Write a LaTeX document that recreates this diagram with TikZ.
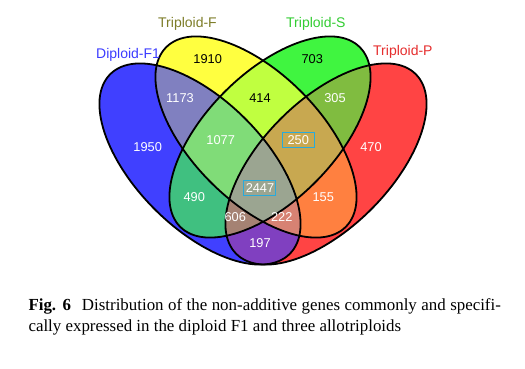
\documentclass[tikz,border=0pt]{standalone}
\usepackage{fontspec}
\setmainfont{Liberation Serif}
\setsansfont{Liberation Sans}
\definecolor{cA}{RGB}{64,64,255}
\definecolor{cB}{RGB}{255,255,64}
\definecolor{cC}{RGB}{64,245,64}
\definecolor{cD}{RGB}{255,68,68}
\definecolor{cAB}{RGB}{128,128,192}
\definecolor{cBC}{RGB}{192,255,64}
\definecolor{cCD}{RGB}{128,188,64}
\definecolor{cAD}{RGB}{128,64,192}
\definecolor{cAC}{RGB}{64,192,128}
\definecolor{cBD}{RGB}{255,128,64}
\definecolor{cABC}{RGB}{128,220,120}
\definecolor{cBCD}{RGB}{200,168,80}
\definecolor{cACD}{RGB}{165,130,115}
\definecolor{cABD}{RGB}{215,130,115}
\definecolor{cABCD}{RGB}{155,165,145}
\definecolor{boxc}{RGB}{40,170,220}
\definecolor{labA}{RGB}{60,60,255}
\definecolor{labB}{RGB}{125,125,40}
\definecolor{labC}{RGB}{50,205,50}
\definecolor{labD}{RGB}{230,45,45}
\newcommand\EA{(200,164) ellipse [x radius=127, y radius=64, rotate=-45]}
\newcommand\EB{(256,137) ellipse [x radius=127, y radius=64, rotate=-45]}
\newcommand\EC{(270,137) ellipse [x radius=127, y radius=64, rotate=45]}
\newcommand\ED{(326,164) ellipse [x radius=127, y radius=64, rotate=45]}
\newcommand\paintreg[2]{\begin{scope}#1\fill[#2] (0,0) rectangle (525,368);\end{scope}}
\begin{document}
\begin{tikzpicture}[x=1pt,y=-1pt,
  num/.style={font=\sffamily\fontsize{12.8}{14}\selectfont, text=white, inner sep=0pt, anchor=center},
  dnum/.style={num, text=black},
  setlab/.style={font=\sffamily\fontsize{14}{16}\selectfont, inner sep=0pt, anchor=base west},
  outline/.style={draw=black, line width=1.8pt},
  hibox/.style={draw=boxc, line width=1.1pt, minimum width=32pt, minimum height=15pt, inner sep=0pt},
  captext/.style={font=\fontsize{16.9}{21}\selectfont, inner sep=0pt, anchor=base west}]
\useasboundingbox (0,0) rectangle (525,368);
\fill[white] (0,0) rectangle (525,368);
% single sets
\paintreg{\clip\EA;}{cA}
\paintreg{\clip\EB;}{cB}
\paintreg{\clip\EC;}{cC}
\paintreg{\clip\ED;}{cD}
% pairs
\paintreg{\clip\EA;\clip\EB;}{cAB}
\paintreg{\clip\EB;\clip\EC;}{cBC}
\paintreg{\clip\EC;\clip\ED;}{cCD}
\paintreg{\clip\EA;\clip\ED;}{cAD}
\paintreg{\clip\EA;\clip\EC;}{cAC}
\paintreg{\clip\EB;\clip\ED;}{cBD}
% triples
\paintreg{\clip\EA;\clip\EB;\clip\EC;}{cABC}
\paintreg{\clip\EB;\clip\EC;\clip\ED;}{cBCD}
\paintreg{\clip\EA;\clip\EC;\clip\ED;}{cACD}
\paintreg{\clip\EA;\clip\EB;\clip\ED;}{cABD}
% all
\paintreg{\clip\EA;\clip\EB;\clip\EC;\clip\ED;}{cABCD}
% outlines
\draw[outline] \EA;
\draw[outline] \EB;
\draw[outline] \EC;
\draw[outline] \ED;
% set labels
\node[setlab, text=labA] (lA) at (96,58) {Diploid-F1};
\node[setlab, text=labB] (lB) at (158,27) {Triploid-F};
\node[setlab, text=labC] (lC) at (286,27) {Triploid-S};
\node[setlab, text=labD] (lD) at (373,55) {Triploid-P};
% counts
\node[dnum] (n1910) at (207.7,59.3) {1910};
\node[dnum] (n703) at (312.3,59.3) {703};
\node[num] (n1173) at (180,97.7) {1173};
\node[dnum] (n414) at (260,97.7) {414};
\node[num] (n305) at (335,97.7) {305};
\node[num] (n1950) at (147.7,146.7) {1950};
\node[num] (n1077) at (220.7,140) {1077};
\node[num] (n250) at (298.3,140) {250};
\node[num] (n470) at (371,146.7) {470};
\node[num] (n2447) at (260,188.3) {2447};
\node[num] (n490) at (194.3,197.3) {490};
\node[num] (n155) at (323.3,197.3) {155};
\node[num] (n606) at (235.3,217.3) {606};
\node[num] (n222) at (281.7,217.3) {222};
\node[num] (n197) at (260,243.3) {197};
\node[hibox] (b250) at (298.8,139.7) {};
\node[hibox] (b2447) at (259.5,188) {};
% caption
\node[captext] (cap1) at (28.3,310) {\makebox[472.4pt][s]{\textbf{Fig. 6}\hspace{0.65em}Distribution of the non-additive genes commonly and specifi-}};
\node[captext] (cap2) at (28.3,331) {cally expressed in the diploid F1 and three allotriploids};
\end{tikzpicture}
\end{document}
